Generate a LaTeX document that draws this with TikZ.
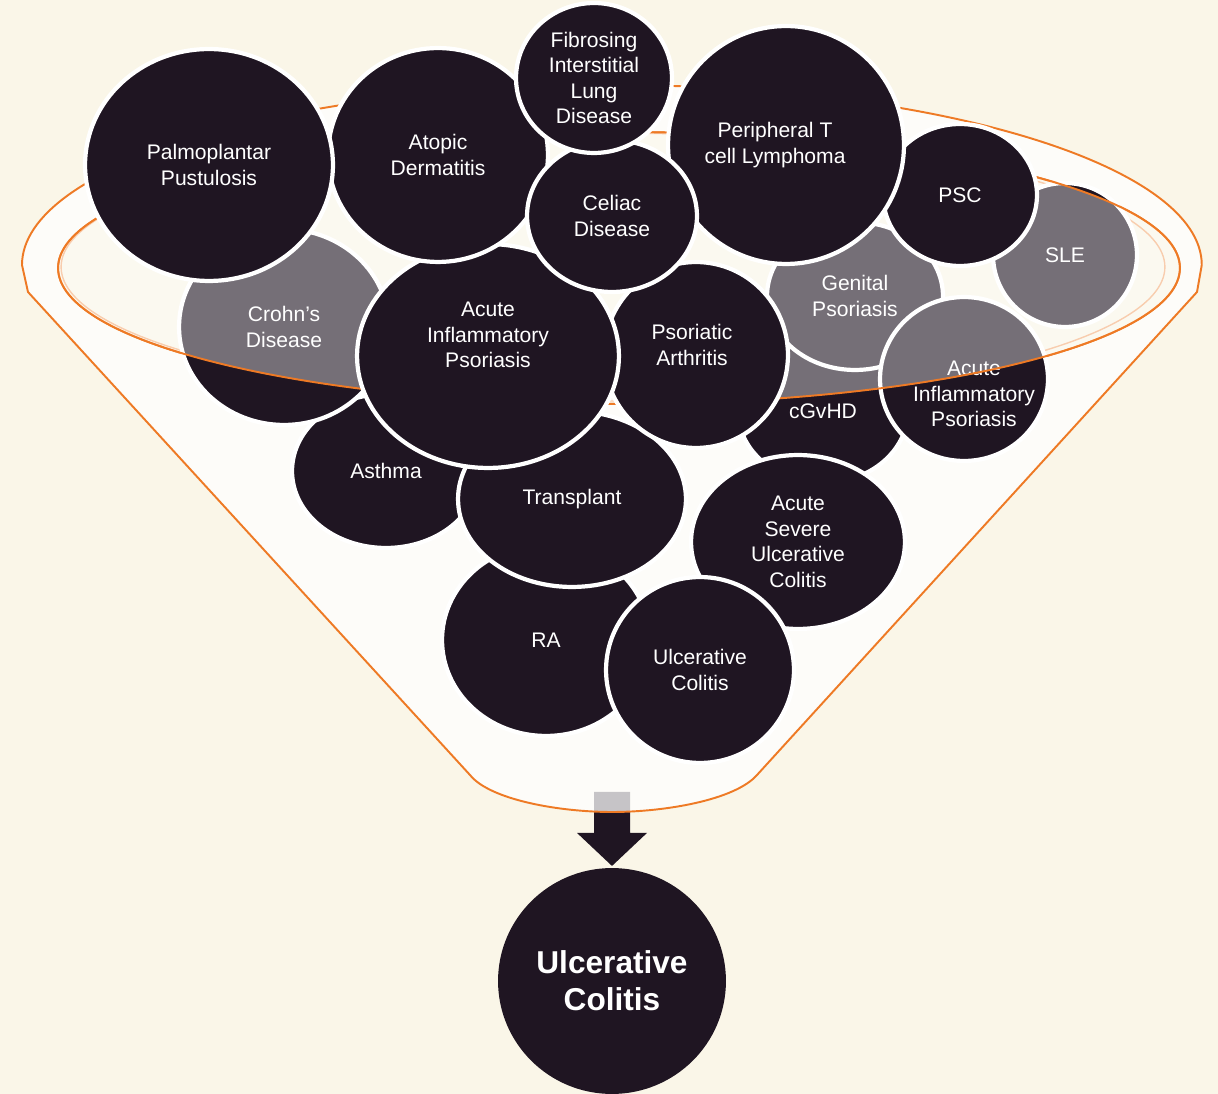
\documentclass[tikz,border=0pt]{standalone}
\usepackage{fontspec}
\setmainfont{Liberation Sans}
\usetikzlibrary{shapes.geometric}
\usetikzlibrary{math}

\definecolor{ink}{HTML}{1F1522}
\definecolor{cream}{HTML}{FAF6E8}
\definecolor{rim}{HTML}{EE7A25}
\definecolor{rimlight}{HTML}{F4AE7C}

\tikzset{
    txt/.style={text=white, align=center, font=\fontsize{12}{14.5}\selectfont},
    disc/.style 2 args={ellipse, fill=ink, draw=white, line width=2.4pt, inner sep=0pt,
        minimum width=#1*0.04cm, minimum height=#2*0.04cm, txt},
}

\begin{document}
\begin{tikzpicture}[x=0.02cm, y=-0.02cm]

% Position settings
\tikzmath{
    \RimX = 619;
    \RimY = 268;
    \RimA = 11.22;
    \RimB = 2.72;
}

% Background
\useasboundingbox (0,0) rectangle (1218,1094);
\fill[cream] (0,0) rectangle (1218,1094);

% Draws result and arrow
\node[disc={114}{113}, draw=none, font=\fontsize{18}{21}\selectfont\bfseries] (result) at (612,981) {Ulcerative\\Colitis};
\coordinate (tip) at (result.north);
\fill[ink] (tip) -- ++(-35,-33) -- ++(17,0) -- ++(0,-41) -- ++(36,0) -- ++(0,41) -- ++(17,0) -- cycle;

% Draws funnel
\path[fill=white, fill opacity=0.75, draw=rim, line width=1.1pt, even odd rule]
    (28,292) -- (22,265) arc[start angle=180, end angle=0, x radius=11.8cm, y radius=3.6cm]
    -- (1197,292) -- (757,775) .. controls (735,800) and (665,812) .. (612,812)
    .. controls (560,812) and (490,800) .. (470,775) -- cycle
    (\RimX,\RimY) ellipse [x radius=\RimA cm, y radius=\RimB cm];
\draw[rimlight, line width=0.8pt] (613,267) ellipse [x radius=11.04cm, y radius=2.68cm];

% Draws back circles
\node[disc={94}{77}] (asthma) at (386,471) {Asthma};
\node[disc={85}{72}] (cgvhd) at (823,411) {cGvHD};
\node[disc={105}{98}] (crohn) at (284,327) {Crohn’s\\Disease};
\node[disc={88}{74}] (genital) at (855,296) {Genital\\Psoriasis};
\node[disc={72}{72}] (sle) at (1065,255) {SLE};
\node[disc={84}{82}, label={[txt, xshift=0.2cm, yshift=-0.3cm]center:Acute\\Inflammatory\\Psoriasis}] (aipR) at (964,379) {};

% Draws rim
\fill[white, opacity=0.39] (\RimX,\RimY) ellipse [x radius=\RimA cm, y radius=\RimB cm];
\draw[rim, line width=1.1pt] (\RimX,\RimY) ellipse [x radius=\RimA cm, y radius=\RimB cm];

% Draws front circles
\node[disc={104}{96}] (ra) at (546,640) {RA};
\node[disc={114}{88}] (transplant) at (572,499) {Transplant};
\node[disc={107}{87}] (asuc) at (798,542) {Acute\\Severe\\Ulcerative\\Colitis};
\node[disc={94}{93}] (uc) at (700,670) {Ulcerative\\Colitis};
\node[disc={92}{93}, label={[txt, xshift=-0.08cm, yshift=0.2cm]center:Psoriatic\\Arthritis}] (pa) at (696,355) {};
\node[disc={131}{112}, label={[txt, yshift=0.42cm]center:Acute\\Inflammatory\\Psoriasis}] (aip) at (488,356) {};
\node[disc={77}{71}] (psc) at (960,195) {PSC};
\node[disc={118}{119}, label={[txt, xshift=-0.22cm]center:Peripheral T\\cell Lymphoma}] (ptcl) at (786,145) {};
\node[disc={110}{107}] (atopic) at (438,155) {Atopic\\Dermatitis};
\node[disc={124}{116}] (ppp) at (209,165) {Palmoplantar\\Pustulosis};
\node[disc={85}{76}] (celiac) at (612,216) {Celiac\\Disease};
\node[disc={78}{75}] (fild) at (594,78) {Fibrosing\\Interstitial\\Lung\\Disease};

\end{tikzpicture}
\end{document}
